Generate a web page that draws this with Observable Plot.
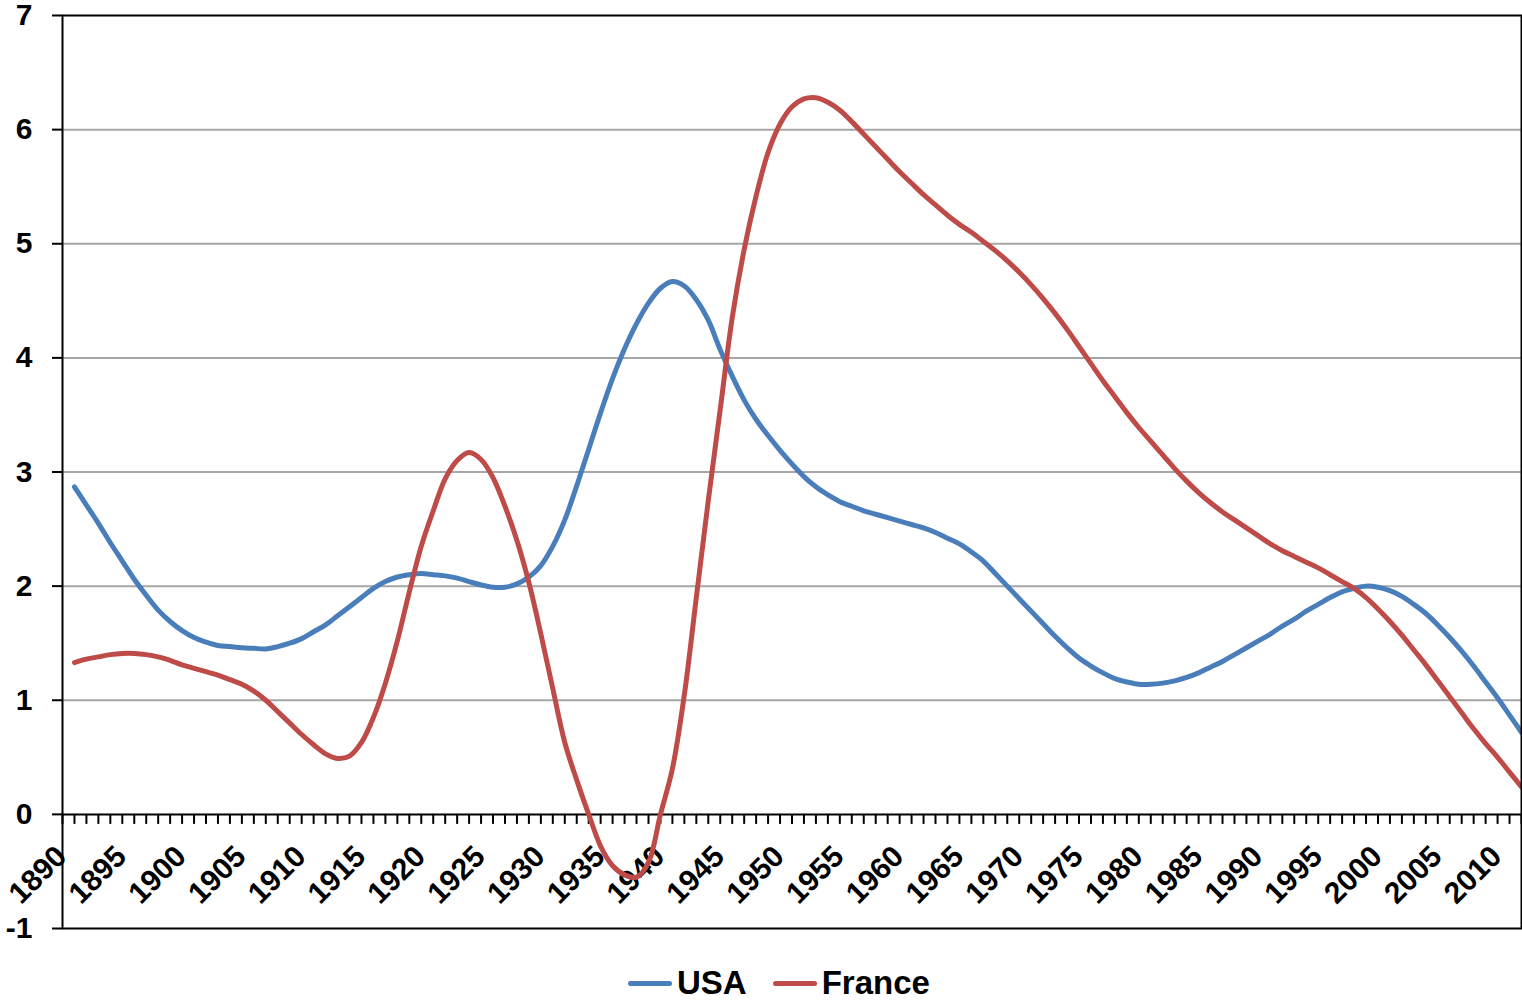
<!DOCTYPE html>
<html>
<head>
<meta charset="utf-8">
<script src="https://cdn.jsdelivr.net/npm/d3@7"></script>
<script src="https://cdn.jsdelivr.net/npm/@observablehq/plot@0.6"></script>
<style>
  html, body { margin: 0; padding: 0; background: #fff; }
  body { width: 1522px; height: 1000px; overflow: hidden; font-family: "Liberation Sans", Arial, sans-serif; }
  #legend { display: flex; align-items: center; margin-left: 628px; margin-top: 20px; height: 36px; font-size: 33px; font-weight: bold; color: #000; }
  .sw { width: 44px; height: 5px; border-radius: 3px; margin-right: 5px; }
  .item { display: flex; align-items: center; margin-right: 26px; }
</style>
</head>
<body>
<div id="chart"></div>
<div id="legend"></div>
<script>
// ---- data ----
const years = d3.range(1891, 2013); // categories 1891..2012
const usa = [
  2.87, 2.71, 2.55, 2.38, 2.22, 2.06, 1.92, 1.79, 1.69, 1.61,   // 1891-1900
  1.55, 1.51, 1.48, 1.47, 1.46, 1.455, 1.45, 1.47, 1.50, 1.54,  // 1901-1910
  1.60, 1.66, 1.74, 1.82, 1.90, 1.98, 2.04, 2.08, 2.10, 2.11,   // 1911-1920
  2.10, 2.09, 2.07, 2.04, 2.01, 1.99, 1.99, 2.02, 2.08, 2.18,   // 1921-1930
  2.35, 2.58, 2.88, 3.20, 3.52, 3.82, 4.08, 4.30, 4.48, 4.61,   // 1931-1940
  4.67, 4.63, 4.51, 4.33, 4.07, 3.84, 3.63, 3.46, 3.32, 3.19,   // 1941-1950
  3.07, 2.96, 2.87, 2.80, 2.74, 2.70, 2.66, 2.63, 2.60, 2.57,   // 1951-1960
  2.54, 2.51, 2.47, 2.42, 2.37, 2.30, 2.22, 2.11, 2.00, 1.89,   // 1961-1970
  1.78, 1.67, 1.56, 1.46, 1.37, 1.30, 1.24, 1.19, 1.16, 1.14,   // 1971-1980
  1.14, 1.15, 1.17, 1.20, 1.24, 1.29, 1.34, 1.40, 1.46, 1.52,   // 1981-1990
  1.58, 1.65, 1.71, 1.78, 1.84, 1.90, 1.95, 1.98, 2.00, 1.99,   // 1991-2000
  1.96, 1.91, 1.84, 1.76, 1.66, 1.55, 1.43, 1.30, 1.16, 1.02,   // 2001-2010
  0.87, 0.72                                                     // 2011-2012
];
const france = [
  1.33, 1.36, 1.38, 1.40, 1.41, 1.41, 1.40, 1.38, 1.35, 1.31,   // 1891-1900
  1.28, 1.25, 1.22, 1.18, 1.14, 1.08, 1.00, 0.90, 0.80, 0.70,   // 1901-1910
  0.61, 0.53, 0.49, 0.51, 0.63, 0.85, 1.15, 1.52, 1.95, 2.35,   // 1911-1920
  2.66, 2.94, 3.10, 3.17, 3.11, 2.95, 2.70, 2.40, 2.03, 1.58,   // 1921-1930
  1.10, 0.63, 0.30, 0.00, -0.28, -0.45, -0.53, -0.55, -0.42, 0.00, // 1931-1940
  0.40, 1.05, 1.90, 2.75, 3.55, 4.35, 4.95, 5.42, 5.80, 6.05,   // 1941-1950
  6.20, 6.27, 6.28, 6.24, 6.17, 6.07, 5.96, 5.85, 5.74, 5.63,   // 1951-1960
  5.53, 5.43, 5.34, 5.25, 5.17, 5.10, 5.02, 4.94, 4.85, 4.75,   // 1961-1970
  4.64, 4.52, 4.39, 4.25, 4.10, 3.95, 3.80, 3.66, 3.52, 3.39,   // 1971-1980
  3.27, 3.15, 3.03, 2.92, 2.82, 2.73, 2.65, 2.58, 2.51, 2.44,   // 1981-1990
  2.37, 2.31, 2.26, 2.21, 2.16, 2.10, 2.04, 1.98, 1.90, 1.80,   // 1991-2000
  1.69, 1.57, 1.44, 1.31, 1.17, 1.03, 0.89, 0.75, 0.62, 0.50,   // 2001-2010
  0.37, 0.24                                                     // 2011-2012
];
const seriesNames = ["USA", "France"];
const seriesColors = ["#4a7ebb", "#be4b48"];
const yTicks = [-1, 0, 1, 2, 3, 4, 5, 6, 7];
const gridValues = [1, 2, 3, 4, 5, 6];
const xLabelYears = d3.range(1890, 2011, 5);
const xMinorTicks = d3.range(1890, 2013);

// ---- build ----
const rows = [];
years.forEach((yr, i) => {
  rows.push({year: yr, value: usa[i], series: "USA"});
  rows.push({year: yr, value: france[i], series: "France"});
});

const chart = Plot.plot({
  width: 1522,
  height: 945,
  marginLeft: 62,
  marginRight: 1,
  marginTop: 15,
  marginBottom: 17,
  style: {fontFamily: "'Liberation Sans', Arial, sans-serif", fontWeight: "bold", fontSize: "30px", color: "#000", background: "#fff", overflow: "visible"},
  x: {domain: [1890, 2012], axis: null, label: null},
  y: {domain: [-1, 7], label: null, axis: null},
  color: {domain: seriesNames, range: seriesColors},
  marks: [
    Plot.ruleY(gridValues, {stroke: "#a6a6a6", strokeWidth: 2}),
    Plot.axisY({ticks: yTicks, tickSize: 10, tickPadding: 20, tickFormat: d => String(d), fontSize: 30, fontWeight: "bold", strokeWidth: 2, label: null}),
    Plot.ruleY([0], {stroke: "#000", strokeWidth: 2}),
    Plot.ruleX(xMinorTicks, {x: d => d, y1: 0, y2: 0, insetBottom: -10, stroke: "#000", strokeWidth: 2}),
    Plot.text(xLabelYears, {x: d => d, y: 0, text: d => String(d), rotate: -45, textAnchor: "end", dx: -1, dy: 37, fontSize: 30, fontWeight: "bold", fill: "#000"}),
    Plot.line(rows.filter(d => d.series === "USA"), {x: "year", y: "value", stroke: "series", strokeWidth: 5, curve: "catmull-rom", clip: "frame"}),
    Plot.line(rows.filter(d => d.series === "France"), {x: "year", y: "value", stroke: "series", strokeWidth: 5, curve: "catmull-rom", clip: "frame"}),
    Plot.frame({stroke: "#000", strokeWidth: 2})
  ]
});
document.getElementById("chart").appendChild(chart);

const legend = document.getElementById("legend");
seriesNames.forEach((name, i) => {
  const item = document.createElement("div");
  item.className = "item";
  const sw = document.createElement("div");
  sw.className = "sw";
  sw.style.background = seriesColors[i];
  const label = document.createElement("span");
  label.textContent = name;
  item.appendChild(sw);
  item.appendChild(label);
  legend.appendChild(item);
});
</script>
</body>
</html>
